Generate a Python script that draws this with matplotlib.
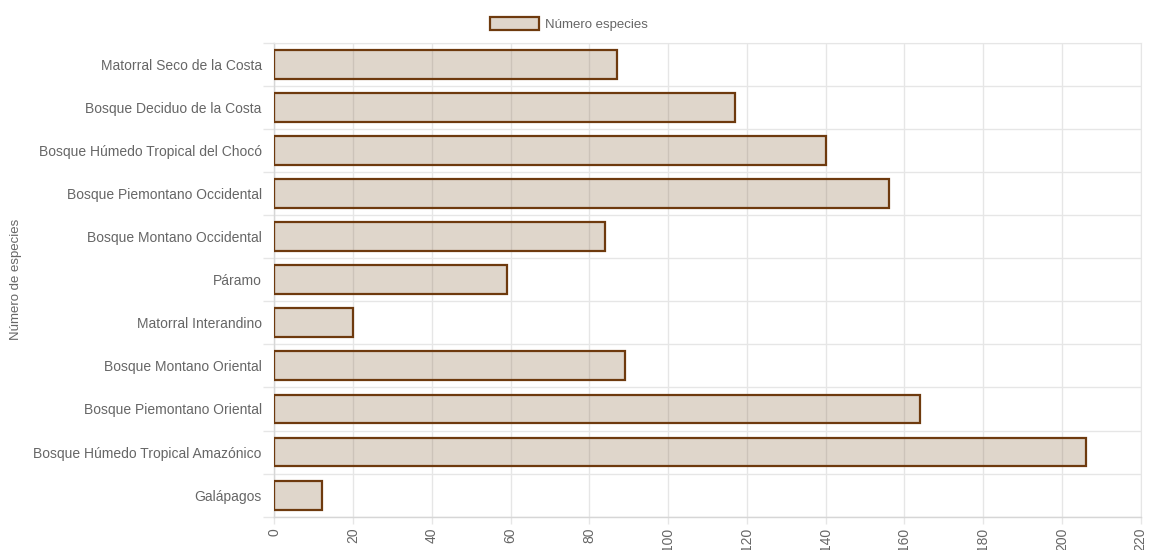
import matplotlib.pyplot as plt
from matplotlib.ticker import MultipleLocator, FixedLocator

# Número de especies por región natural
regiones = [
    'Matorral Seco de la Costa',
    'Bosque Deciduo de la Costa',
    'Bosque Húmedo Tropical del Chocó',
    'Bosque Piemontano Occidental',
    'Bosque Montano Occidental',
    'Páramo',
    'Matorral Interandino',
    'Bosque Montano Oriental',
    'Bosque Piemontano Oriental',
    'Bosque Húmedo Tropical Amazónico',
    'Galápagos',
]
especies = [87, 117, 140, 156, 84, 59, 20, 89, 164, 206, 12]

plt.rcParams['font.family'] = ['Liberation Sans', 'DejaVu Sans']
gris_texto = '#666666'
gris_linea = '#e6e6e6'

W, H = 1151, 550
fig = plt.figure(figsize=(W / 100, H / 100), dpi=100)
left, right, top, bottom = 274.3, 1140.7, 42.7, 516.7
ax = fig.add_axes([left / W, 1 - bottom / H, (right - left) / W, (bottom - top) / H])

pos = list(range(len(regiones)))
ax.barh(pos, especies, height=0.67, color=(0.5, 0.36, 0.2, 0.25),
        edgecolor='#6e3a0e', linewidth=1.6, zorder=3, label='Número especies')

ax.set_xlim(0, 220)
ax.set_ylim(len(regiones) - 0.5, -0.5)

ax.xaxis.set_major_locator(MultipleLocator(20))
ax.set_yticks(pos)
ax.set_yticklabels(regiones)
ax.yaxis.set_minor_locator(FixedLocator([p - 0.5 for p in pos] + [len(pos) - 0.5]))

ax.grid(axis='x', which='major', color=gris_linea, linewidth=1, zorder=0)
ax.grid(axis='y', which='minor', color=gris_linea, linewidth=1, zorder=0)
ax.set_axisbelow(True)

ax.tick_params(axis='y', which='major', length=0, pad=9, labelsize=10, labelcolor=gris_texto)
ax.tick_params(axis='y', which='minor', length=8, width=1, color=gris_linea)
ax.tick_params(axis='x', which='major', length=5, width=1, color=gris_linea,
               pad=3, labelsize=10, labelcolor=gris_texto, labelrotation=90)

for lado in ['top', 'right']:
    ax.spines[lado].set_color(gris_linea)
for lado in ['left', 'bottom']:
    ax.spines[lado].set_color('#d6d6d6')
    ax.spines[lado].set_linewidth(1)

fig.text(16 / W, 1 - 279 / H, 'Número de especies', rotation=90,
         ha='center', va='center', fontsize=9.5, color=gris_texto)

fig.legend(loc='center', bbox_to_anchor=(569 / W, 1 - 24 / H), frameon=False,
           fontsize=9.5, labelcolor=gris_texto, handlelength=3.7,
           handleheight=1.1, handletextpad=0.45)

fig.savefig('out.png', dpi=100)
